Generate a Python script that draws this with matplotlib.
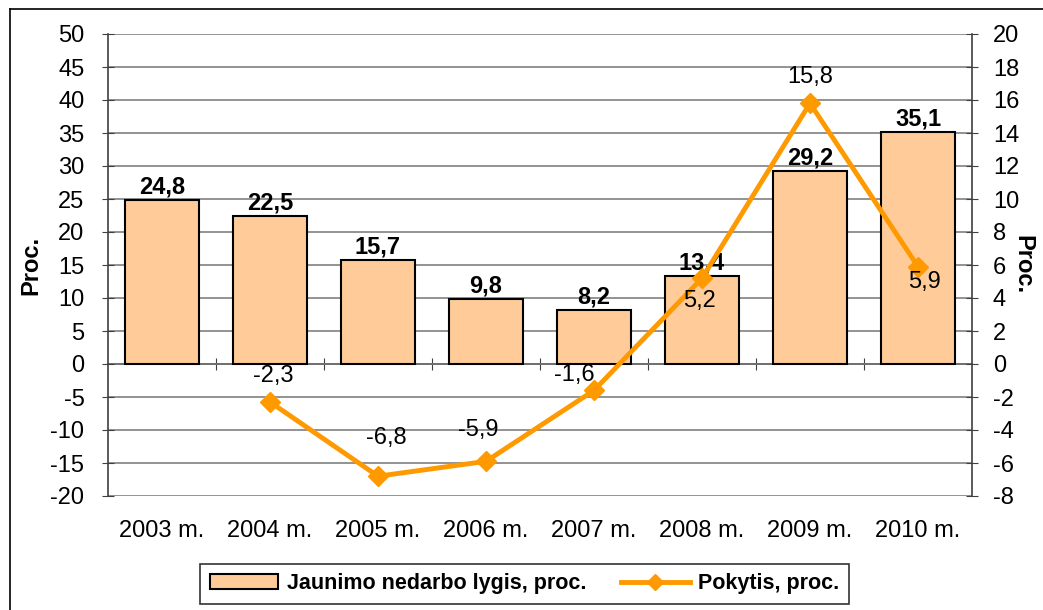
import matplotlib
matplotlib.use("Agg")
import matplotlib.pyplot as plt
from matplotlib.lines import Line2D

plt.rcParams['font.family'] = ['Liberation Sans', 'DejaVu Sans']
plt.rcParams['axes.unicode_minus'] = False

years = ['2003 m.', '2004 m.', '2005 m.', '2006 m.', '2007 m.', '2008 m.', '2009 m.', '2010 m.']
unemployment = [24.8, 22.5, 15.7, 9.8, 8.2, 13.4, 29.2, 35.1]
change_years = [1, 2, 3, 4, 5, 6, 7]
change = [-2.3, -6.8, -5.9, -1.6, 5.2, 15.8, 5.9]
# label offsets (pixels) for the line values
change_offsets = [(3, 26), (8, 38), (-8, 31), (-20, 15), (-3, -23), (0, 26), (6, -15)]

BAR = '#FFCC99'
LINE = '#FF9900'
GRID = '#808080'
FS = 17


def lt(v):
    return f'{v:.1f}'.replace('.', ',')


fig = plt.figure(figsize=(10.43, 6.10), dpi=100)
ax = fig.add_axes([108 / 1043, 1 - 496 / 610, (972 - 108) / 1043, (496 - 34) / 610])

x = list(range(len(years)))
bars = ax.bar(x, unemployment, width=0.68, color=BAR, edgecolor='black', linewidth=1.5,
              zorder=2, label='Jaunimo nedarbo lygis, proc.')
ax.bar_label(bars, labels=[lt(v) for v in unemployment], padding=1,
             fontsize=FS, fontweight='bold')

ax.set_xlim(-0.5, len(years) - 0.5)
ax.set_ylim(-20, 50)
ax.set_yticks(range(-20, 51, 5))
ax.set_xticks(x)
ax.set_xticklabels(years, fontsize=FS)
ax.tick_params(axis='x', length=0, pad=17)
ax.tick_params(axis='y', labelsize=FS, direction='inout', length=8, color='#404040', pad=13)
ax.set_axisbelow(True)
ax.yaxis.grid(True, color=GRID, linewidth=1.2)
for s in ('top', 'bottom', 'right'):
    ax.spines[s].set_visible(False)
ax.spines['left'].set_color('#404040')
ax.spines['left'].set_linewidth(1.2)
ax.set_ylabel('Proc.', fontsize=17, fontweight='bold')
ax.yaxis.set_label_coords(-66 / 864, 0.5)

# category axis at zero with boundary ticks
sec = ax.secondary_xaxis(20 / 70)
sec.set_xticks([i + 0.5 for i in x[:-1]])
sec.tick_params(direction='inout', length=9, labelbottom=False, color='#404040')
sec.spines['bottom'].set_color('black')
sec.spines['bottom'].set_linewidth(1.2)

ax2 = ax.twinx()
ax2.plot(change_years, change, color=LINE, linewidth=3.5, marker='D', markersize=10,
         label='Pokytis, proc.', zorder=3)
for xi, v, off in zip(change_years, change, change_offsets):
    ax2.annotate(lt(v), (xi, v), xytext=off, textcoords='offset pixels',
                 ha='center', va='center', fontsize=FS)
ax2.set_ylim(-8, 20)
ax2.set_yticks(range(-8, 21, 2))
ax2.tick_params(axis='y', labelsize=FS, direction='inout', length=8, color='#404040', pad=11)
for s in ('top', 'bottom', 'left'):
    ax2.spines[s].set_visible(False)
ax2.spines['right'].set_color('#404040')
ax2.spines['right'].set_linewidth(1.2)
ax2.set_ylabel('Proc.', fontsize=17, fontweight='bold', rotation=-90)
ax2.yaxis.set_label_coords(1 + 62 / 864, 0.5)

# legend
handles = [bars, Line2D([], [], color=LINE, linewidth=3.5, marker='D', markersize=8)]
labels = ['Jaunimo nedarbo lygis, proc.', 'Pokytis, proc.']
leg = fig.legend(handles, labels, loc='center', bbox_to_anchor=(0.503, 0.043), ncol=2,
                 prop={'weight': 'bold', 'size': 15.5}, frameon=True, fancybox=False,
                 edgecolor='black', borderpad=0.45, columnspacing=1.6, handlelength=3.2,
                 handletextpad=0.4)
leg.get_frame().set_linewidth(1.2)

# outer chart border
fig.add_artist(Line2D([10 / 1043, 1], [1 - 9 / 610, 1 - 9 / 610], color='black', linewidth=1.2))
fig.add_artist(Line2D([10 / 1043, 10 / 1043], [0, 1 - 9 / 610], color='black', linewidth=1.2))

fig.savefig('out.png', dpi=100)
